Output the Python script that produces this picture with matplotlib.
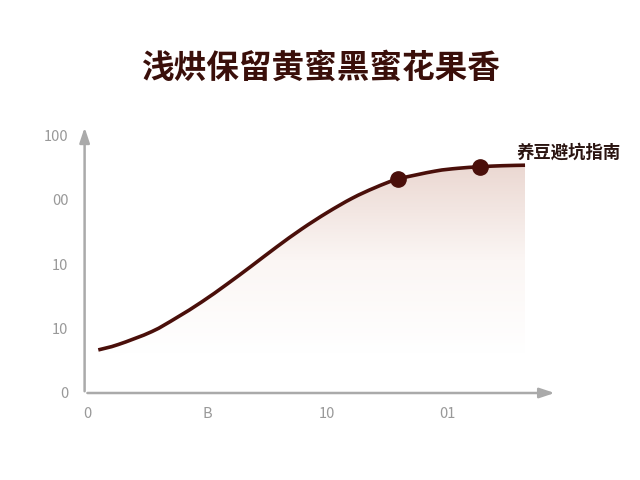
import numpy as np
import matplotlib
matplotlib.use('Agg')
import matplotlib.pyplot as plt
from matplotlib.colors import LinearSegmentedColormap
from matplotlib.path import Path
from matplotlib.patches import PathPatch

plt.rcParams['font.family'] = ['Noto Sans CJK SC', 'DejaVu Sans']

# data
x_vals = [0.094, 0.261, 0.54, 0.747, 0.956, 1.164, 1.37, 1.58, 1.79, 2.0,
          2.21, 2.40, 2.59, 2.90, 3.09, 3.275, 3.46, 3.65]
y_vals = [16.7, 18.8, 23.8, 29.2, 35.3, 42.1, 49.2, 56.6, 63.6, 69.9,
          75.5, 79.6, 82.9, 86.0, 87.1, 87.7, 88.1, 88.3]
marker_idx = [12, 15]

x_ticks = [0, 1, 2, 3]
x_labels = ['0', 'B', '10', '01']
y_ticks = [0, 25, 50, 75, 100]
y_labels = ['0', '10', '10', '00', '100']

title = '浅烘保留黄蜜黑蜜花果香'
note = '养豆避坑指南'

line_color = '#4a0f0a'
axis_color = '#aaaaaa'


def smooth_path(xs, ys):
    # Catmull-Rom style bezier through the read points (drawing only)
    pts = np.column_stack([xs, ys])
    verts = [pts[0]]
    codes = [Path.MOVETO]
    n = len(pts)
    for i in range(n - 1):
        p0 = pts[max(i - 1, 0)]
        p1 = pts[i]
        p2 = pts[i + 1]
        p3 = pts[min(i + 2, n - 1)]
        c1 = p1 + (p2 - p0) / 6.0
        c2 = p2 - (p3 - p1) / 6.0
        verts += [c1, c2, p2]
        codes += [Path.CURVE4] * 3
    return verts, codes


fig = plt.figure(figsize=(6.4, 4.8), dpi=100)
ax = fig.add_axes([85 / 640, 87 / 480, 495 / 640, 283 / 480])
ax.set_xlim(-0.0167, 4.108)
ax.set_ylim(0, 109.7)

verts, codes = smooth_path(x_vals, y_vals)

# gradient fill under the curve
fill_verts = verts + [(x_vals[-1], 0), (x_vals[0], 0), verts[0]]
fill_codes = codes + [Path.LINETO, Path.LINETO, Path.CLOSEPOLY]
fill_patch = PathPatch(Path(fill_verts, fill_codes), facecolor='none',
                       edgecolor='none', transform=ax.transData)
ax.add_patch(fill_patch)
cmap = LinearSegmentedColormap.from_list('fade', ['#ffffff', '#fbf6f4', '#ebd8d2'])
grad = np.clip((np.linspace(0, max(y_vals), 256) - 15) / (max(y_vals) - 15), 0, 1)
img = ax.imshow(grad.reshape(-1, 1), cmap=cmap, aspect='auto', origin='lower',
                extent=[x_vals[0], x_vals[-1], 0, max(y_vals)], zorder=1,
                vmin=0, vmax=1)
img.set_clip_path(fill_patch)

ax.add_patch(PathPatch(Path(verts, codes), facecolor='none', edgecolor=line_color,
                       lw=2.6, zorder=3, capstyle='butt'))
ax.plot([x_vals[i] for i in marker_idx], [y_vals[i] for i in marker_idx], 'o',
        color=line_color, ms=11, zorder=4)

# axes with arrows
for s in ax.spines.values():
    s.set_visible(False)
ax.annotate('', xy=(3.92, 0), xytext=(-0.02, 0), annotation_clip=False,
            arrowprops=dict(arrowstyle='-|>,head_length=0.9,head_width=0.3',
                            color=axis_color, lw=1.8))
ax.annotate('', xy=(-0.02, 104), xytext=(-0.02, -0.4), annotation_clip=False,
            arrowprops=dict(arrowstyle='-|>,head_length=0.9,head_width=0.3',
                            color=axis_color, lw=1.8))

ax.set_xticks(x_ticks)
ax.set_xticklabels(x_labels)
ax.set_yticks(y_ticks)
ax.set_yticklabels(y_labels)
ax.tick_params(length=0, colors='#999999', labelsize=10.5)
ax.tick_params(axis='x', pad=10)
ax.tick_params(axis='y', pad=12)

ax.text(3.58, 93.0, note, fontsize=12.5, color='#2a1410', va='center', ha='left',
        fontweight='bold')

fig.text(0.5, 1 - 68 / 480, title, fontsize=23.5, fontweight='bold',
         color='#3a0f0a', ha='center', va='center')

fig.savefig('out.png', dpi=100, facecolor='white')
